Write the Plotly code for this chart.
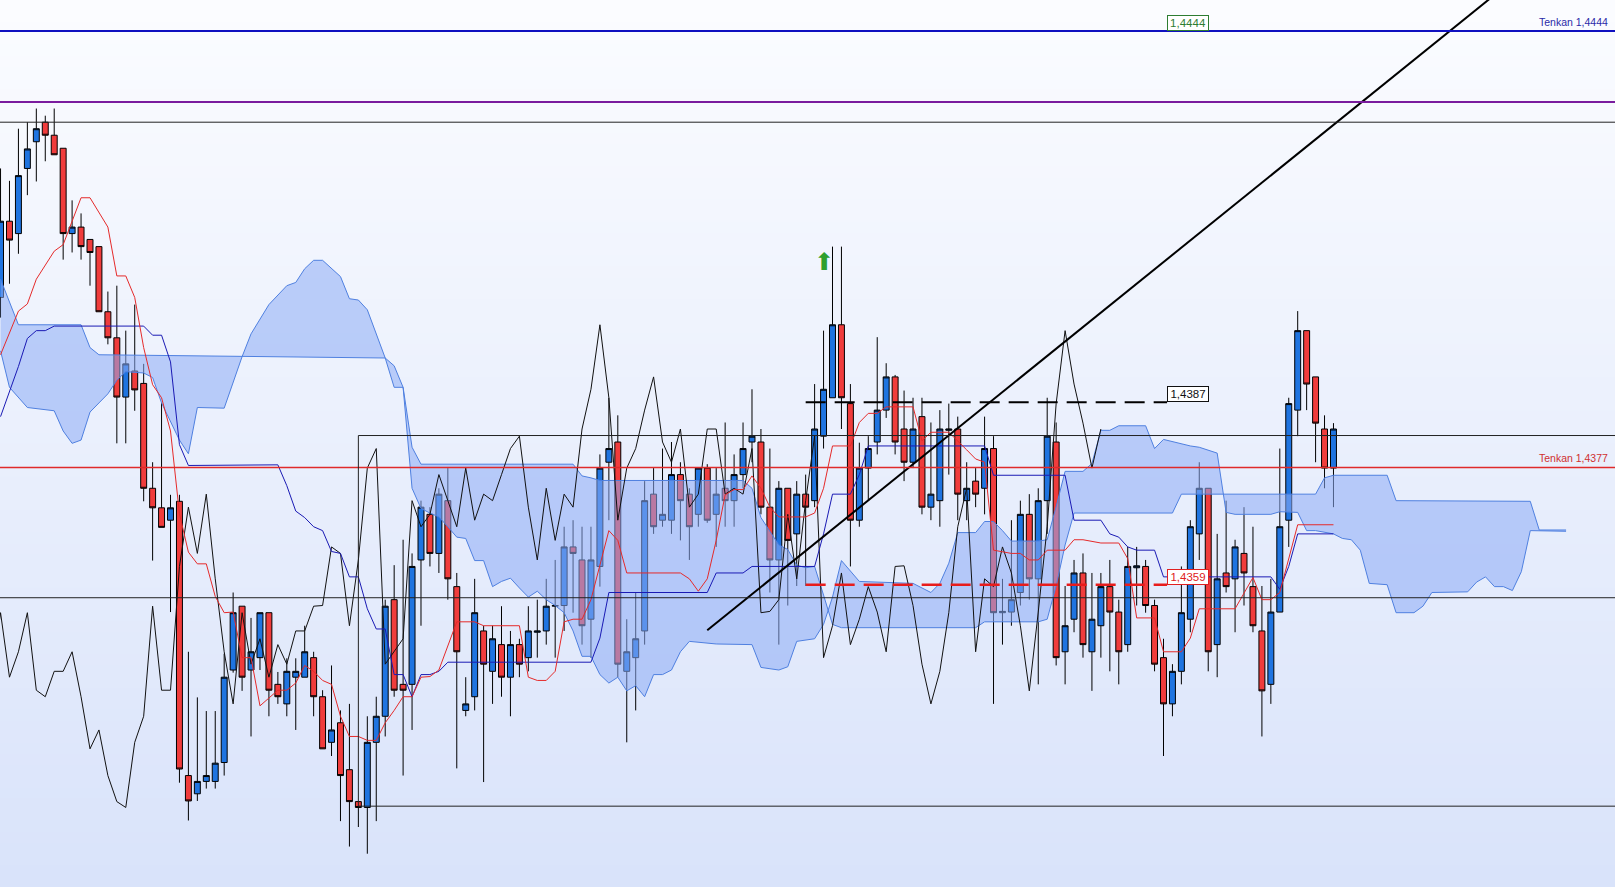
import plotly.graph_objects as go

# candles, oldest first (x is the bar number)
opens = [
    1.44031, 1.44148, 1.44129, 1.44229, 1.44270, 1.44300, 1.44280, 1.44260, 1.44129, 1.44139,
    1.44120, 1.44109, 1.44009, 1.43969, 1.43878, 1.43918, 1.43899, 1.43738, 1.43708, 1.43689,
    1.43718, 1.43297, 1.43269, 1.43288, 1.43288, 1.43317, 1.43459, 1.43557, 1.43459, 1.43478,
    1.43547, 1.43437, 1.43407, 1.43448, 1.43448, 1.43478, 1.43418, 1.43348, 1.43378, 1.43306,
    1.43257, 1.43248, 1.43348, 1.43388, 1.43567, 1.43437, 1.43437, 1.43628, 1.43698, 1.43638,
    1.43719, 1.43587, 1.43397, 1.43418, 1.43519, 1.43457, 1.43498, 1.43448, 1.43498, 1.43478,
    1.43517, 1.43519, 1.43557, 1.43558, 1.43648, 1.43628, 1.43537, 1.43618, 1.43778, 1.43809,
    1.43457, 1.43478, 1.43519, 1.43729, 1.43689, 1.43689, 1.43759, 1.43729, 1.43698, 1.43769,
    1.43698, 1.43738, 1.43719, 1.43759, 1.43809, 1.43809, 1.43709, 1.43628, 1.43738, 1.43668,
    1.43729, 1.43719, 1.43818, 1.43877, 1.43989, 1.43868, 1.43689, 1.43769, 1.43809, 1.43858,
    1.43909, 1.43829, 1.43778, 1.43848, 1.43709, 1.43719, 1.43827, 1.43829, 1.43719, 1.43749,
    1.43738, 1.43799, 1.43547, 1.43548, 1.43578, 1.43698, 1.43599, 1.43719, 1.43809, 1.43487,
    1.43537, 1.43608, 1.43487, 1.43527, 1.43587, 1.43548, 1.43498, 1.43616, 1.43618, 1.43558,
    1.43478, 1.43407, 1.43457, 1.43537, 1.43668, 1.43738, 1.43498, 1.43608, 1.43599, 1.43638,
    1.43587, 1.43519, 1.43437, 1.43548, 1.43689, 1.43858, 1.43980, 1.43909, 1.43829, 1.43769,
]
highs = [
    1.44229, 1.44210, 1.44290, 1.44300, 1.44321, 1.44310, 1.44321, 1.44260, 1.44180, 1.44160,
    1.44120, 1.44109, 1.44040, 1.44049, 1.43980, 1.44020, 1.43929, 1.43778, 1.43869, 1.43728,
    1.43728, 1.43487, 1.43417, 1.43396, 1.43396, 1.43484, 1.43578, 1.43557, 1.43539, 1.43547,
    1.43547, 1.43456, 1.43477, 1.43477, 1.43527, 1.43487, 1.43428, 1.43466, 1.43397, 1.43407,
    1.43257, 1.43388, 1.43418, 1.43567, 1.43620, 1.43659, 1.43638, 1.43719, 1.43709, 1.43738,
    1.43769, 1.43608, 1.43448, 1.43599, 1.43527, 1.43527, 1.43557, 1.43519, 1.43507, 1.43557,
    1.43567, 1.43599, 1.43628, 1.43679, 1.43689, 1.43679, 1.43679, 1.43790, 1.43877, 1.43850,
    1.43537, 1.43578, 1.43749, 1.43769, 1.43799, 1.43809, 1.43778, 1.43738, 1.43769, 1.43775,
    1.43769, 1.43839, 1.43790, 1.43839, 1.43890, 1.43829, 1.43799, 1.43749, 1.43738, 1.43749,
    1.43759, 1.43898, 1.43980, 1.44109, 1.44109, 1.43898, 1.43808, 1.43818, 1.43970, 1.43930,
    1.43912, 1.43888, 1.43877, 1.43877, 1.43839, 1.43858, 1.43868, 1.43848, 1.43778, 1.43769,
    1.43848, 1.43818, 1.43599, 1.43689, 1.43719, 1.43729, 1.43738, 1.43877, 1.43839, 1.43588,
    1.43628, 1.43638, 1.43608, 1.43608, 1.43628, 1.43567, 1.43648, 1.43648, 1.43628, 1.43567,
    1.43507, 1.43468, 1.43618, 1.43689, 1.43778, 1.43738, 1.43668, 1.43719, 1.43659, 1.43709,
    1.43679, 1.43588, 1.43599, 1.43799, 1.43877, 1.44010, 1.43980, 1.43909, 1.43850, 1.43838,
]
lows = [
    1.44000, 1.44052, 1.44098, 1.44188, 1.44209, 1.44240, 1.44250, 1.44089, 1.44100, 1.44089,
    1.44049, 1.44009, 1.43959, 1.43807, 1.43807, 1.43857, 1.43718, 1.43627, 1.43678, 1.43548,
    1.43286, 1.43228, 1.43258, 1.43277, 1.43277, 1.43297, 1.43455, 1.43427, 1.43357, 1.43459,
    1.43388, 1.43407, 1.43388, 1.43367, 1.43448, 1.43388, 1.43338, 1.43327, 1.43227, 1.43188,
    1.43218, 1.43177, 1.43227, 1.43357, 1.43418, 1.43297, 1.43367, 1.43527, 1.43618, 1.43608,
    1.43567, 1.43308, 1.43388, 1.43397, 1.43287, 1.43407, 1.43418, 1.43388, 1.43448, 1.43457,
    1.43478, 1.43498, 1.43478, 1.43519, 1.43547, 1.43498, 1.43478, 1.43587, 1.43689, 1.43448,
    1.43348, 1.43397, 1.43498, 1.43668, 1.43679, 1.43668, 1.43658, 1.43628, 1.43679, 1.43685,
    1.43648, 1.43679, 1.43679, 1.43738, 1.43778, 1.43698, 1.43578, 1.43498, 1.43558, 1.43588,
    1.43588, 1.43709, 1.43799, 1.43877, 1.43829, 1.43618, 1.43679, 1.43719, 1.43790, 1.43846,
    1.43790, 1.43749, 1.43769, 1.43698, 1.43689, 1.43679, 1.43759, 1.43689, 1.43689, 1.43709,
    1.43698, 1.43407, 1.43498, 1.43527, 1.43558, 1.43567, 1.43437, 1.43668, 1.43466, 1.43437,
    1.43517, 1.43478, 1.43427, 1.43478, 1.43457, 1.43437, 1.43487, 1.43558, 1.43547, 1.43457,
    1.43327, 1.43388, 1.43437, 1.43517, 1.43628, 1.43457, 1.43448, 1.43578, 1.43517, 1.43558,
    1.43517, 1.43357, 1.43407, 1.43548, 1.43648, 1.43818, 1.43858, 1.43778, 1.43738, 1.43709,
]
closes = [
    1.44148, 1.44119, 1.44218, 1.44259, 1.44290, 1.44280, 1.44250, 1.44129, 1.44139, 1.44109,
    1.44100, 1.44009, 1.43969, 1.43878, 1.43929, 1.43889, 1.43738, 1.43708, 1.43678, 1.43708,
    1.43307, 1.43258, 1.43288, 1.43297, 1.43316, 1.43448, 1.43547, 1.43448, 1.43487, 1.43547,
    1.43428, 1.43418, 1.43457, 1.43457, 1.43487, 1.43418, 1.43338, 1.43367, 1.43297, 1.43257,
    1.43248, 1.43348, 1.43388, 1.43557, 1.43428, 1.43428, 1.43618, 1.43709, 1.43638, 1.43729,
    1.43599, 1.43487, 1.43407, 1.43547, 1.43468, 1.43507, 1.43448, 1.43498, 1.43468, 1.43519,
    1.43519, 1.43557, 1.43558, 1.43648, 1.43638, 1.43527, 1.43628, 1.43769, 1.43799, 1.43468,
    1.43487, 1.43507, 1.43719, 1.43679, 1.43698, 1.43759, 1.43719, 1.43679, 1.43769, 1.43689,
    1.43729, 1.43719, 1.43759, 1.43799, 1.43818, 1.43709, 1.43628, 1.43738, 1.43658, 1.43729,
    1.43709, 1.43829, 1.43890, 1.43989, 1.43877, 1.43689, 1.43769, 1.43799, 1.43858, 1.43909,
    1.43809, 1.43778, 1.43829, 1.43709, 1.43729, 1.43829, 1.43829, 1.43729, 1.43738, 1.43729,
    1.43799, 1.43547, 1.43549, 1.43567, 1.43698, 1.43599, 1.43719, 1.43818, 1.43478, 1.43527,
    1.43608, 1.43498, 1.43537, 1.43587, 1.43548, 1.43487, 1.43618, 1.43619, 1.43558, 1.43468,
    1.43407, 1.43457, 1.43547, 1.43679, 1.43738, 1.43487, 1.43599, 1.43587, 1.43648, 1.43608,
    1.43527, 1.43427, 1.43548, 1.43679, 1.43868, 1.43980, 1.43898, 1.43838, 1.43769, 1.43829,
]
bars = list(range(len(opens)))

# ichimoku lines (bar number, price)
tenkan_x = [
    0, 2, 3, 4, 6, 7, 9, 10, 12, 13,
    14, 15, 16, 17, 18, 19, 20, 21, 22, 23,
    24, 25, 26, 27, 28, 29, 31, 32, 33, 34,
    35, 36, 37, 38, 39, 40, 41, 42, 43, 44,
    45, 46, 47, 48, 49, 51, 53, 54, 58, 59,
    60, 61, 62, 63, 64, 65, 66, 67, 68, 69,
    70, 76, 77, 78, 79, 80, 81, 82, 83, 84,
    85, 86, 87, 90, 91, 92, 93, 95, 96, 97,
    98, 99, 102, 103, 104, 106, 107, 108, 109, 110,
    111, 113, 114, 115, 116, 117, 119, 120, 121, 123,
    125, 126, 127, 129, 130, 132, 133, 134, 138, 139,
    140, 141, 142, 143, 144, 145, 149,
]
tenkan = [
    1.43943, 1.44010, 1.44021, 1.44059, 1.44102, 1.44112, 1.44184, 1.44184, 1.44139, 1.44064,
    1.44064, 1.44031, 1.43954, 1.43897, 1.43877, 1.43826, 1.43699, 1.43640, 1.43622, 1.43622,
    1.43572, 1.43547, 1.43548, 1.43478, 1.43478, 1.43404, 1.43428, 1.43428, 1.43439, 1.43466,
    1.43457, 1.43443, 1.43437, 1.43388, 1.43357, 1.43357, 1.43351, 1.43351, 1.43378, 1.43397,
    1.43418, 1.43418, 1.43448, 1.43449, 1.43459, 1.43533, 1.43533, 1.43527, 1.43527, 1.43448,
    1.43443, 1.43443, 1.43457, 1.43533, 1.43537, 1.43537, 1.43567, 1.43618, 1.43673, 1.43658,
    1.43608, 1.43608, 1.43599, 1.43580, 1.43599, 1.43658, 1.43728, 1.43736, 1.43736, 1.43757,
    1.43738, 1.43709, 1.43694, 1.43694, 1.43700, 1.43738, 1.43803, 1.43803, 1.43839, 1.43853,
    1.43853, 1.43863, 1.43863, 1.43811, 1.43824, 1.43824, 1.43811, 1.43797, 1.43783, 1.43778,
    1.43643, 1.43638, 1.43638, 1.43628, 1.43628, 1.43643, 1.43643, 1.43659, 1.43659, 1.43654,
    1.43654, 1.43630, 1.43539, 1.43539, 1.43487, 1.43487, 1.43508, 1.43553, 1.43553, 1.43578,
    1.43601, 1.43567, 1.43567, 1.43578, 1.43630, 1.43682, 1.43682,
]
kijun_x = [
    0, 2, 3, 4, 5, 6, 16, 17, 18, 19,
    20, 21, 31, 32, 33, 34, 35, 36, 37, 38,
    39, 40, 41, 42, 43, 44, 45, 46, 47, 48,
    49, 50, 66, 67, 68, 79, 80, 83, 84, 91,
    92, 93, 95, 96, 97, 110, 111, 119, 120, 123,
    124, 125, 126, 127, 129, 130, 142, 143, 144, 145,
    149,
]
kijun = [
    1.43848, 1.43925, 1.43968, 1.43980, 1.43980, 1.43987, 1.43987, 1.43973, 1.43973, 1.43932,
    1.43805, 1.43773, 1.43774, 1.43742, 1.43703, 1.43693, 1.43679, 1.43673, 1.43641, 1.43638,
    1.43602, 1.43602, 1.43553, 1.43522, 1.43522, 1.43452, 1.43452, 1.43418, 1.43452, 1.43452,
    1.43457, 1.43471, 1.43471, 1.43508, 1.43578, 1.43578, 1.43608, 1.43608, 1.43618, 1.43618,
    1.43668, 1.43729, 1.43729, 1.43759, 1.43803, 1.43803, 1.43758, 1.43758, 1.43689, 1.43689,
    1.43668, 1.43663, 1.43648, 1.43643, 1.43643, 1.43602, 1.43602, 1.43583, 1.43618, 1.43668,
    1.43668,
]
span_a_x = [
    0, 1, 3, 6, 7, 8, 9, 10, 11, 12,
    13, 14, 16, 17, 18, 19, 20, 21, 22, 25,
    26, 27, 28, 30, 32, 33, 34, 35, 36, 37,
    38, 39, 40, 41, 42, 43, 44, 45, 46, 47,
    64, 65, 66, 67, 83, 84, 85, 86, 87, 88,
    89, 90, 91, 92, 93, 94, 109, 110, 116, 117,
    118, 119, 120, 131, 132, 147, 148, 149, 155, 156,
    171, 172, 175,
]
span_a = [
    1.43949, 1.43893, 1.43862, 1.43857, 1.43826, 1.43807, 1.43812, 1.43855, 1.43869, 1.43883,
    1.43904, 1.43917, 1.43915, 1.43908, 1.43869, 1.43841, 1.43812, 1.43791, 1.43862, 1.43861,
    1.43902, 1.43940, 1.43975, 1.44020, 1.44049, 1.44054, 1.44075, 1.44088, 1.44088, 1.44076,
    1.44063, 1.44029, 1.44027, 1.44012, 1.43975, 1.43938, 1.43926, 1.43893, 1.43801, 1.43775,
    1.43775, 1.43757, 1.43754, 1.43750, 1.43750, 1.43738, 1.43693, 1.43672, 1.43651, 1.43644,
    1.43620, 1.43616, 1.43618, 1.43574, 1.43529, 1.43524, 1.43524, 1.43533, 1.43533, 1.43537,
    1.43588, 1.43651, 1.43700, 1.43700, 1.43729, 1.43729, 1.43754, 1.43758, 1.43758, 1.43719,
    1.43718, 1.43674, 1.43674,
]
span_b_x = [
    0, 2, 9, 10, 11, 43, 44, 45, 46, 47,
    48, 49, 50, 51, 52, 53, 54, 55, 56, 57,
    58, 59, 60, 61, 62, 63, 64, 65, 66, 67,
    68, 69, 70, 71, 72, 73, 74, 75, 76, 77,
    80, 84, 85, 87, 88, 89, 91, 92, 93, 94,
    96, 99, 102, 103, 104, 105, 106, 107, 109, 110,
    111, 112, 113, 116, 117, 118, 119, 121, 122, 123,
    124, 125, 128, 129, 130, 133, 134, 136, 137, 138,
    142, 143, 145, 146, 147, 149, 150, 151, 152, 153,
    155, 156, 158, 159, 160, 164, 165, 166, 167, 168,
    169, 170, 171, 175,
]
span_b = [
    1.44059, 1.43989, 1.43989, 1.43954, 1.43943, 1.43938, 1.43893, 1.43893, 1.43738, 1.43707,
    1.43700, 1.43694, 1.43679, 1.43663, 1.43661, 1.43627, 1.43627, 1.43587, 1.43595, 1.43600,
    1.43585, 1.43571, 1.43580, 1.43567, 1.43558, 1.43547, 1.43519, 1.43480, 1.43480, 1.43452,
    1.43439, 1.43448, 1.43427, 1.43435, 1.43418, 1.43452, 1.43452, 1.43459, 1.43487, 1.43503,
    1.43499, 1.43498, 1.43463, 1.43459, 1.43464, 1.43503, 1.43507, 1.43529, 1.43571, 1.43627,
    1.43595, 1.43594, 1.43592, 1.43585, 1.43578, 1.43592, 1.43623, 1.43670, 1.43670, 1.43687,
    1.43687, 1.43673, 1.43657, 1.43657, 1.43659, 1.43710, 1.43764, 1.43764, 1.43776, 1.43827,
    1.43827, 1.43834, 1.43834, 1.43799, 1.43813, 1.43803, 1.43801, 1.43792, 1.43701, 1.43698,
    1.43698, 1.43702, 1.43701, 1.43673, 1.43673, 1.43668, 1.43661, 1.43659, 1.43643, 1.43592,
    1.43590, 1.43547, 1.43547, 1.43557, 1.43578, 1.43579, 1.43594, 1.43602, 1.43587, 1.43587,
    1.43581, 1.43610, 1.43673, 1.43672,
]
chikou_shift = 26

# drawn objects
tenkan_hi = 1.4444
tenkan_lo = 1.4377
purple_level = 1.44331
top_level = 1.44300
mid_level = 1.43570
box_left, box_top, box_bottom = 40, 1.43819, 1.43250
dash_start, dash_end = 90, 130.4
dash_black, dash_red = 1.4387, 1.4359
trend_x = [79.0, 180.5]
trend_y = [1.43520, 1.44645]
arrow_x, arrow_y = 92, 1.44085

x_range = [-0.06, 180.47]
y_range = [1.431259, 1.444876]

FONT = "Liberation Sans, Arial, sans-serif"

fig = go.Figure()

# cloud
fig.add_trace(go.Scatter(x=span_a_x, y=span_a, mode="lines",
                         line=dict(color="#4f80e0", width=1), hoverinfo="skip"))
fig.add_trace(go.Scatter(x=span_b_x, y=span_b, mode="lines", fill="tonexty",
                         fillcolor="rgba(140,172,245,0.55)",
                         line=dict(color="#4f80e0", width=1), hoverinfo="skip"))

# chikou, kijun, tenkan
fig.add_trace(go.Scatter(x=[b - chikou_shift for b in bars], y=closes, mode="lines",
                         line=dict(color="#111111", width=1), hoverinfo="skip"))
fig.add_trace(go.Scatter(x=kijun_x, y=kijun, mode="lines",
                         line=dict(color="#1a1ab4", width=1), hoverinfo="skip"))
fig.add_trace(go.Scatter(x=tenkan_x, y=tenkan, mode="lines",
                         line=dict(color="#e52a2a", width=1), hoverinfo="skip"))

fig.add_trace(go.Candlestick(
    x=bars, open=opens, high=highs, low=lows, close=closes,
    increasing=dict(fillcolor="#1f74e0", line=dict(color="black", width=1)),
    decreasing=dict(fillcolor="#f03c3c", line=dict(color="black", width=1)),
    whiskerwidth=0, hoverinfo="skip"))

fig.add_trace(go.Scatter(x=trend_x, y=trend_y, mode="lines",
                         line=dict(color="black", width=2), hoverinfo="skip"))

shapes = []
# background gradient, light at the top
n_bands = 80
bottom_rgb = (217, 227, 250)
top_rgb = (251, 252, 255)
for k in range(n_bands):
    t = k / (n_bands - 1)
    c = tuple(round(b + (tp - b) * t) for b, tp in zip(bottom_rgb, top_rgb))
    shapes.append(dict(type="rect", xref="paper", yref="paper", x0=0, x1=1,
                       y0=k / n_bands, y1=(k + 1) / n_bands + 0.002,
                       fillcolor="rgb(%d,%d,%d)" % c, line=dict(width=0), layer="below"))

def hline(y, color, width):
    return dict(type="line", xref="paper", yref="y", x0=0, x1=1, y0=y, y1=y,
                line=dict(color=color, width=width))

shapes += [
    hline(tenkan_hi, "#1010c0", 2),
    hline(purple_level, "#7a1c9e", 2),
    hline(top_level, "#222222", 1),
    hline(mid_level, "#222222", 1),
    hline(tenkan_lo, "#e02a2a", 1.5),
    dict(type="rect", xref="x", yref="y", x0=box_left, x1=x_range[1] + 5,
         y0=box_bottom, y1=box_top, line=dict(color="#222222", width=1)),
    dict(type="line", xref="x", yref="y", x0=dash_start, x1=dash_end,
         y0=dash_black, y1=dash_black, line=dict(color="black", width=2, dash="20px,9px")),
    dict(type="line", xref="x", yref="y", x0=dash_start, x1=dash_end,
         y0=dash_red, y1=dash_red, line=dict(color="#e81c1c", width=2.5, dash="20px,9px")),
]

def price_box(y, text, color, bg="white"):
    return dict(x=dash_end, y=y, xref="x", yref="y", text=text, showarrow=False,
                xanchor="left", yanchor="bottom", width=40, height=14,
                font=dict(family=FONT, size=11.5, color=color),
                bgcolor=bg, bordercolor=color, borderwidth=1, borderpad=0)

annotations = [
    price_box(dash_black, "1,4387", "#111111"),
    price_box(dash_red, "1,4359", "#e02020"),
    price_box(tenkan_hi, "1,4444", "#2e7d32"),
    dict(x=1, y=tenkan_hi, xref="paper", yref="y", text="Tenkan 1,4444", showarrow=False,
         xanchor="right", yanchor="bottom", xshift=-5, yshift=1,
         font=dict(family=FONT, size=10.5, color="#2a2aa8")),
    dict(x=1, y=tenkan_lo, xref="paper", yref="y", text="Tenkan 1,4377", showarrow=False,
         xanchor="right", yanchor="bottom", xshift=-5, yshift=1,
         font=dict(family=FONT, size=10.5, color="#d03030")),
    # green signal arrow
    dict(x=arrow_x, y=arrow_y, xref="x", yref="y", text="\u2b06", showarrow=False,
         font=dict(family="DejaVu Sans", size=24, color="#2ea02e")),
]

fig.update_layout(
    width=1615, height=887,
    margin=dict(l=0, r=0, t=0, b=0),
    showlegend=False,
    boxgap=0.05,
    plot_bgcolor="#eef2fd", paper_bgcolor="#eef2fd",
    shapes=shapes, annotations=annotations,
    xaxis=dict(range=x_range, visible=False, showgrid=False, zeroline=False,
               rangeslider=dict(visible=False)),
    yaxis=dict(range=y_range, visible=False, showgrid=False, zeroline=False),
    font=dict(family=FONT),
)

fig.write_html("out.html", config={"displayModeBar": False},
               post_script="document.body.style.margin='0';document.body.style.overflow='hidden';")
